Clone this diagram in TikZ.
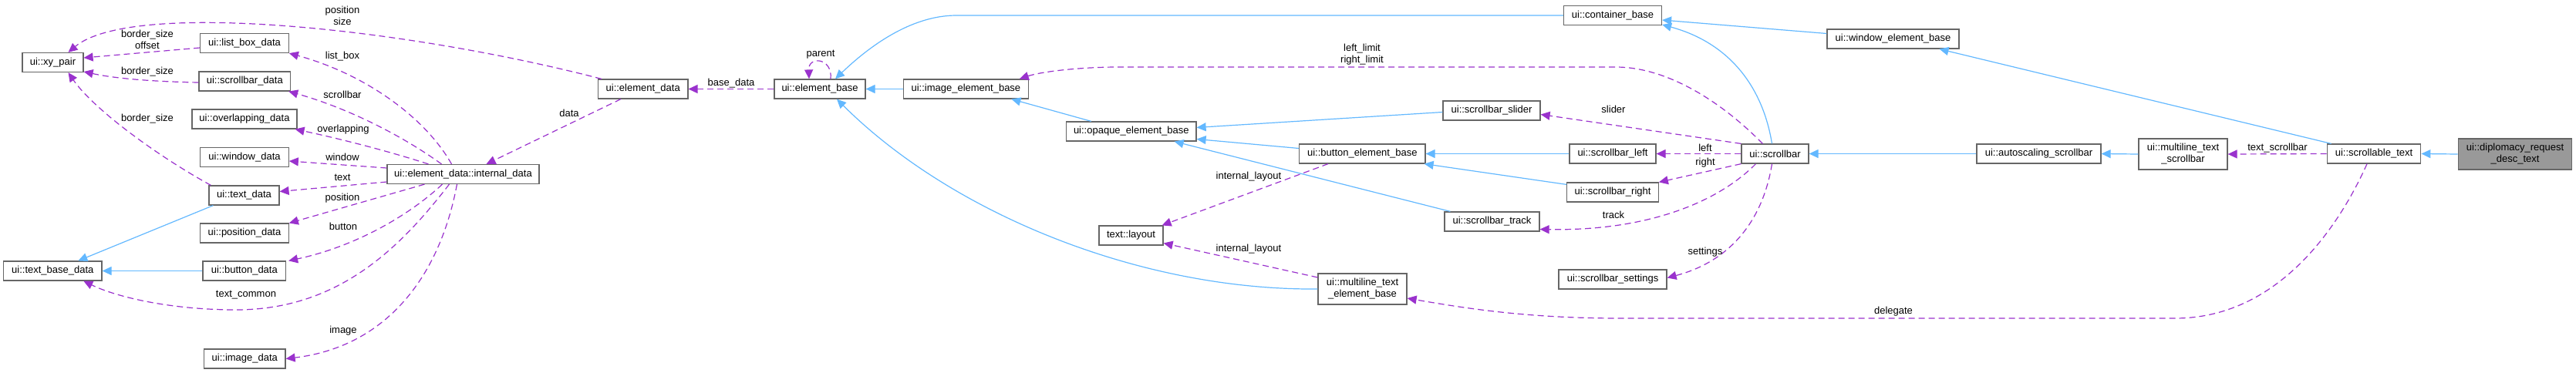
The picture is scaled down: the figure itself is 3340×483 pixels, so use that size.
\documentclass[tikz,border=0pt]{standalone}
\usepackage{fontspec}
\setmainfont{Liberation Sans}
\usetikzlibrary{arrows.meta,calc}
\definecolor{inh}{HTML}{63B8FF}
\definecolor{use}{HTML}{9A32CD}
\definecolor{bord}{HTML}{666666}
\definecolor{hl}{HTML}{999999}
\begin{document}
\begin{tikzpicture}[x=1pt,y=-1pt,
  every node/.style={font=\fontsize{13}{15}\selectfont},
  box/.style={draw=bord, line width=1.2pt, fill=white, inner sep=0pt, minimum height=25pt, align=center},
  tall/.style={box, minimum height=40pt},
  inherit/.style={draw=inh, line width=1.2pt, -{Triangle[length=12pt,width=11pt]}},
  usage/.style={draw=use, line width=1.2pt, dash pattern=on 8pt off 5pt, -{Triangle[length=12pt,width=11pt]}},
  lbl/.style={inner sep=0pt, align=center},
]
\useasboundingbox (0,0) rectangle (3340,483);
% nodes
\node[box, minimum width=79pt] (xy) at (68.5,81) {ui::xy\_pair};
\node[box, minimum width=114.5pt] (lbd) at (317,56) {ui::list\_box\_data};
\node[box, minimum width=118.6pt] (sbd) at (317.3,105.5) {ui::scrollbar\_data};
\node[box, minimum width=136pt] (ovd) at (317,154.5) {ui::overlapping\_data};
\node[box, minimum width=114.5pt] (wnd) at (317,204) {ui::window\_data};
\node[box, minimum width=91pt] (txd) at (316.5,253.5) {ui::text\_data};
\node[box, minimum width=114.5pt] (psd) at (317,302.5) {ui::position\_data};
\node[box, minimum width=107.5pt] (btd) at (316.8,351.5) {ui::button\_data};
\node[box, minimum width=105.5pt] (imd) at (317.3,465.5) {ui::image\_data};
\node[box, minimum width=127.4pt] (tbd) at (68.3,351.5) {ui::text\_base\_data};
\node[box, minimum width=197pt] (intd) at (600.5,226) {ui::element\_data::internal\_data};
\node[box, minimum width=116.4pt] (eld) at (833.7,115.5) {ui::element\_data};
\node[box, minimum width=118pt] (elb) at (1063,115.5) {ui::element\_base};
\node[box, minimum width=161.5pt] (ieb) at (1252.4,115.5) {ui::image\_element\_base};
\node[box, minimum width=168.4pt] (oeb) at (1466.8,170.5) {ui::opaque\_element\_base};
\node[box, minimum width=83pt] (lay) at (1466.5,305.5) {text::layout};
\node[box, minimum width=127pt] (ctb) at (2091,20) {ui::container\_base};
\node[box, minimum width=126pt] (sls) at (1934,143.5) {ui::scrollbar\_slider};
\node[box, minimum width=163.4pt] (beb) at (1766.3,199.5) {ui::button\_element\_base};
\node[box, minimum width=112pt] (slf) at (2091,199.5) {ui::scrollbar\_left};
\node[box, minimum width=118.6pt] (srt) at (2091,249.5) {ui::scrollbar\_right};
\node[box, minimum width=123pt] (stk) at (1934.5,287.5) {ui::scrollbar\_track};
\node[box, minimum width=140pt] (sst) at (2091,362.5) {ui::scrollbar\_settings};
\node[tall, minimum width=115pt] (mteb) at (1766.5,375) {ui::multiline\_text\\\_element\_base};
\node[box, minimum width=171pt] (web) at (2454.5,50.5) {ui::window\_element\_base};
\node[box, minimum width=87pt] (sb) at (2301.5,199.5) {ui::scrollbar};
\node[box, minimum width=161pt] (asb) at (2643.5,199.5) {ui::autoscaling\_scrollbar};
\node[tall, minimum width=115pt] (mts) at (2830.5,200) {ui::multiline\_text\\\_scrollbar};
\node[box, minimum width=121.6pt] (sct) at (3078,199.5) {ui::scrollable\_text};
\node[tall, minimum width=147.5pt, fill=hl] (dip) at (3261,200) {ui::diplomacy\_request\\\_desc\_text};
% inheritance
\draw[inherit] ($(txd.south west)+(6,0)$) -- ($(tbd.north)+(33,0)$);
\draw[inherit] (btd.west) -- (tbd.east);
\draw[inherit] (ieb.west) -- (elb.east);
\draw[inherit] (ctb.west) -- (1240,20) .. controls (1180,20) and (1125,62) .. ($(elb.north)+(20,0)$);
\draw[inherit] (mteb.west) .. controls (1480,377) and (1235,278) .. ($(elb.south)+(22,0)$);
\draw[inherit] ($(oeb.north)+(-52,0)$) -- ($(ieb.south)+(59,0)$);
\draw[inherit] ($(sls.west)+(0,2)$) -- ($(oeb.east)+(0,-5)$);
\draw[inherit] ($(beb.west)+(0,-7)$) -- ($(oeb.east)+(0,10)$);
\draw[inherit] ($(stk.north west)+(8,0)$) -- ($(oeb.south east)+(-29,0)$);
\draw[inherit] (slf.west) -- (beb.east);
\draw[inherit] ($(srt.north west)+(0,3)$) -- ($(beb.south east)+(-2,0)$);
\draw[inherit] ($(sb.north)+(-4,0)$) .. controls (2285,110) and (2240,55) .. ($(ctb.east)+(0,12)$);
\draw[inherit] ($(web.west)+(0,-7)$) -- ($(ctb.east)+(0,6)$);
\draw[inherit] ($(sct.north west)+(6,0)$) -- ($(web.south)+(60,0)$);
\draw[inherit] (asb.west) -- (sb.east);
\draw[inherit] (mts.west) -- (asb.east);
\draw[inherit] (dip.west) -- (sct.east);
% usage
\draw[usage] ($(lbd.west)+(0,6)$) -- ($(xy.east)+(0,-6)$);
\draw[usage] ($(sbd.west)+(0,1.5)$) .. controls (200,106) and (150,102) .. ($(xy.east)+(0,12)$);
\draw[usage] ($(txd.north west)+(3,0)$) .. controls (200,200) and (120,140) .. ($(xy.south)+(20,0)$);
\draw[usage] ($(eld.north west)+(5,0)$) .. controls (520,35) and (170,0) .. ($(xy.north)+(20,0)$);
\draw[usage] ($(intd.north)+(-15,0)$) .. controls (550,150) and (470,95) .. (lbd.south east);
\draw[usage] ($(intd.north)+(-28,0)$) .. controls (520,175) and (450,140) .. ($(sbd.south east)+(-3,0)$);
\draw[usage] ($(intd.north)+(-45,0)$) .. controls (500,195) and (440,180) .. ($(ovd.south east)+(-3,0)$);
\draw[usage] ($(intd.west)+(0,-8)$) -- ($(wnd.east)+(0,5)$);
\draw[usage] ($(intd.west)+(0,10)$) -- ($(txd.east)+(0,-5)$);
\draw[usage] ($(intd.south)+(-50,0)$) -- ($(psd.east)+(0,-13)$);
\draw[usage] ($(intd.south)+(-27,0)$) .. controls (530,280) and (460,320) .. ($(btd.north east)+(3,0)$);
\draw[usage] ($(intd.south)+(-18,0)$) .. controls (520,320) and (440,402) .. (306,402) .. controls (220,402) and (150,385) .. ($(tbd.south)+(40,0)$);
\draw[usage] ($(intd.south)+(-8,0)$) .. controls (570,360) and (500,450) .. (imd.east);
\draw[usage] ($(eld.south west)+(30,0)$) -- ($(intd.north)+(30,0)$);
\draw[usage] (elb.west) -- (eld.east);
\draw[usage] ($(elb.north)+(14,0)$) .. controls (1080,75) and (1048,72) .. ($(elb.north)+(-14,0)$);
\draw[usage] ($(sb.north west)+(28,0)$) .. controls (2230,130) and (2160,87) .. (2095,87) -- (1450,87) .. controls (1400,87) and (1350,93) .. ($(ieb.north east)+(-12,0)$);
\draw[usage] (sb.north west) -- ($(sls.east)+(0,5)$);
\draw[usage] (sb.west) -- (slf.east);
\draw[usage] (sb.south west) -- (srt.north east);
\draw[usage] ($(sb.south)+(-25,0)$) .. controls (2230,260) and (2140,300) .. ($(stk.east)+(0,10)$);
\draw[usage] ($(sb.south)+(-4,0)$) .. controls (2285,290) and (2240,340) .. ($(sst.east)+(0,-2)$);
\draw[usage] ($(beb.south west)+(38,0)$) -- ($(lay.north east)+(-2,0)$);
\draw[usage] ($(mteb.west)+(0,-15)$) -- ($(lay.east)+(0,10)$);
\draw[usage] ($(sct.south)+(-9,0)$) .. controls (3030,300) and (2950,413) .. (2820,413) -- (2100,413) .. controls (1980,413) and (1900,400) .. ($(mteb.east)+(0,12)$);
\draw[usage] (sct.west) -- (mts.east);
% labels
\node[lbl] (l1) at (191,51) {border\_size\\offset};
\node[lbl] (l2) at (191,93) {border\_size};
\node[lbl] (l3) at (191,154) {border\_size};
\node[lbl] (l4) at (444,20) {position\\size};
\node[lbl] (l5) at (444,73) {list\_box};
\node[lbl] (l6) at (444,123) {scrollbar};
\node[lbl] (l7) at (445,168) {overlapping};
\node[lbl] (l8) at (444,204) {window};
\node[lbl] (l9) at (444,230) {text};
\node[lbl] (l10) at (444,257) {position};
\node[lbl] (l11) at (445,294) {button};
\node[lbl] (l12) at (319,383) {text\_common};
\node[lbl] (l13) at (445,429) {image};
\node[lbl] (l14) at (738,147) {data};
\node[lbl] (l15) at (948,108) {base\_data};
\node[lbl] (l16) at (1064,71) {parent};
\node[lbl] (l17) at (1766,71) {left\_limit\\right\_limit};
\node[lbl] (l18) at (2092,142) {slider};
\node[lbl] (l19) at (2211,192) {left};
\node[lbl] (l20) at (2211,211) {right};
\node[lbl] (l21) at (2092,279) {track};
\node[lbl] (l22) at (2211,327) {settings};
\node[lbl] (l23) at (1619,229) {internal\_layout};
\node[lbl] (l24) at (1619,323) {internal\_layout};
\node[lbl] (l25) at (2455,404) {delegate};
\node[lbl] (l26) at (2953,192) {text\_scrollbar};
\end{tikzpicture}
\end{document}
